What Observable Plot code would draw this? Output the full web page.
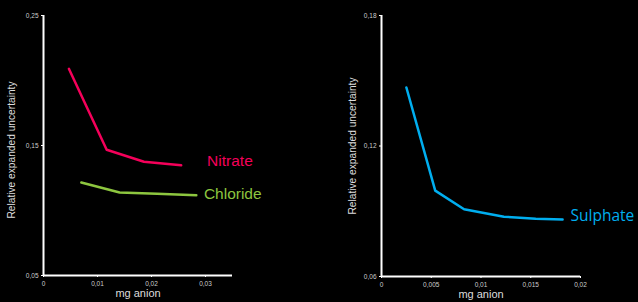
<!DOCTYPE html>
<html>
<head>
<meta charset="utf-8">
<script src="https://cdn.jsdelivr.net/npm/d3@7"></script>
<script src="https://cdn.jsdelivr.net/npm/@observablehq/plot@0.6"></script>
<style>
html,body{margin:0;padding:0;background:#000;}
#wrap{display:flex;width:638px;height:302px;background:#000;overflow:hidden;}
svg{display:block;}
</style>
</head>
<body>
<div id="wrap"></div>
<script>
// Left chart data
const nitrateX = [0.0047, 0.0117, 0.0186, 0.0255];
const nitrateY = [0.209, 0.1467, 0.1375, 0.1348];
const chlorideX = [0.0070, 0.0141, 0.0210, 0.0283];
const chlorideY = [0.1215, 0.1138, 0.1128, 0.1118];
const leftXTicks = [0, 0.01, 0.02, 0.03];
const leftYTicks = [0.05, 0.15, 0.25];
// Right chart data
const sulphateX = [0.0025, 0.0054, 0.0083, 0.0123, 0.0155, 0.0182];
const sulphateY = [0.1469, 0.0995, 0.0909, 0.0875, 0.0866, 0.0862];
const rightXTicks = [0, 0.005, 0.01, 0.015, 0.02];
const rightYTicks = [0.06, 0.12, 0.18];

const labels = {nitrate: "Nitrate", chloride: "Chloride", sulphate: "Sulphate"};
const colors = {nitrate: "#f5005a", chloride: "#8dc63f", sulphate: "#00aeef"};

const fmt = d => String(d).replace(".", ",");
const zip = (xs, ys) => xs.map((x, i) => ({x, y: ys[i]}));

const nitrate = zip(nitrateX, nitrateY);
const chloride = zip(chlorideX, chlorideY);
const sulphate = zip(sulphateX, sulphateY);

function chart({width, marginLeft, marginRight, marginTop, marginBottom, xDomain, yDomain, xTicks, yTicks, marks, titleX}) {
  return Plot.plot({
    width, height: 302,
    marginLeft, marginRight, marginTop, marginBottom,
    style: {background: "#000", color: "#fff", fontFamily: "Liberation Sans, Arial, sans-serif", overflow: "visible"},
    x: {domain: xDomain, ticks: xTicks, tickFormat: fmt, label: null},
    y: {domain: yDomain, ticks: yTicks, tickFormat: fmt, label: null},
    marks: [
      Plot.axisX({ticks: xTicks, tickFormat: fmt, tickSize: 2, tickPadding: 4, stroke: "#fff", fill: "#ccc", fontSize: 6.5, label: null}),
      Plot.axisY({ticks: yTicks, tickFormat: fmt, tickSize: 2, tickPadding: 3, stroke: "#fff", fill: "#ccc", fontSize: 6.5, label: null}),
      Plot.ruleY([yDomain[0]], {stroke: "#fff", strokeWidth: 2, x1: xDomain[0], x2: xDomain[1]}),
      Plot.ruleX([xDomain[0]], {stroke: "#fff", strokeWidth: 2, y1: yDomain[0], y2: yDomain[1]}),
      ...marks,
      Plot.text([titleX], {frameAnchor: "bottom", dy: 21, fill: "#ddd", fontSize: 11}),
    ]
  });
}

const left = chart({
  width: 320, marginLeft: 43, marginRight: 88, marginTop: 15, marginBottom: 27,
  xDomain: [0, 0.035], yDomain: [0.05, 0.25], xTicks: leftXTicks, yTicks: leftYTicks,
  titleX: "mg anion",
  marks: [
    Plot.line(nitrate, {x: "x", y: "y", stroke: colors.nitrate, strokeWidth: 2.5}),
    Plot.line(chloride, {x: "x", y: "y", stroke: colors.chloride, strokeWidth: 2.5}),
    Plot.text([labels.nitrate], {x: 0.0303, y: 0.1381, text: d => d, textAnchor: "start", fill: colors.nitrate, fontSize: 15.5}),
    Plot.text([labels.chloride], {x: 0.0297, y: 0.1127, text: d => d, textAnchor: "start", fill: colors.chloride, fontSize: 15.5}),
  ]
});

const right = chart({
  width: 318, marginLeft: 61, marginRight: 58, marginTop: 15, marginBottom: 26,
  xDomain: [0, 0.02], yDomain: [0.06, 0.18], xTicks: rightXTicks, yTicks: rightYTicks,
  titleX: "mg anion",
  marks: [
    Plot.line(sulphate, {x: "x", y: "y", stroke: colors.sulphate, strokeWidth: 2.5}),
    Plot.text([labels.sulphate], {x: 0.0190, y: 0.0878, text: d => d, textAnchor: "start", fill: colors.sulphate, fontSize: 15.5, fontFamily: "Open Sans, sans-serif"}),
  ]
});

// rotated y titles
function addYTitle(svg, x, y) {
  const ns = "http://www.w3.org/2000/svg";
  const t = document.createElementNS(ns, "text");
  t.setAttribute("transform", `translate(${x},${y}) rotate(-90)`);
  t.setAttribute("text-anchor", "middle");
  t.setAttribute("dominant-baseline", "middle");
  t.setAttribute("fill", "#ddd");
  t.setAttribute("font-size", "10.2");
  t.setAttribute("font-family", "Liberation Sans, Arial, sans-serif");
  t.textContent = "Relative expanded uncertainty";
  svg.appendChild(t);
}
addYTitle(left, 12, 150);
addYTitle(right, 353 - 320, 146);

const wrap = document.getElementById("wrap");
wrap.appendChild(left);
wrap.appendChild(right);
</script>
</body>
</html>
